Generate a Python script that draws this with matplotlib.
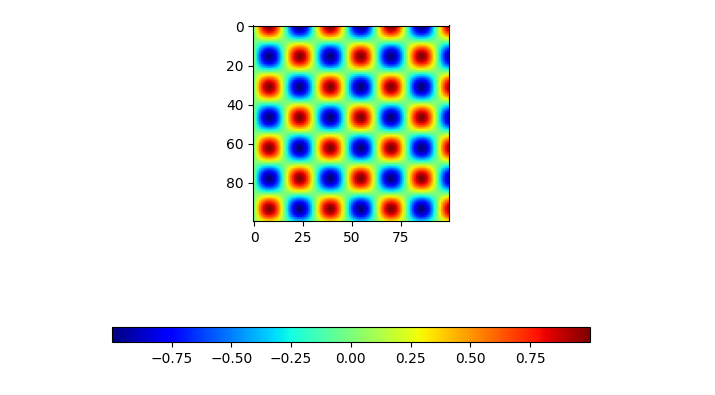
import numpy as np
import matplotlib
matplotlib.use("Agg")
import matplotlib.pyplot as plt

# Estimated profiles: 100 values along each image axis
row_profile = [
    1.000, .980, .920, .822, .691, .532, .351, .156, -.045, -.245,
    -.436, -.606, -.753, -.870, -.951, -.994, -.996, -.958, -.880, -.767,
    -.623, -.454, -.266, -.066, .136, .331, .514, .675, .809, .910,
    .975, 1.000, .983, .927, .833, .705, .549, .370, .177, -.024,
    -.224, -.411, -.584, -.733, -.855, -.942, -.990, -.998, -.964, -.890,
    -.781, -.640, -.473, -.286, -.089, .112, .308, .494, .659, .796,
    .901, .970, .999, .987, .936, .846, .722, .568, .390, .199,
    -.004, -.204, -.397, -.573, -.726, -.849, -.939, -.989, -.999, -.968,
    -.899, -.792, -.654, -.489, -.304, -.106, .095, .293, .479, .645,
    .785, .893, .965, .998, .990, .942, .856, .735, .583, .408,
]
col_profile = [
    .000, .201, .393, .570, .723, .847, .937, .988, .999, .969,
    .901, .796, .658, .493, .308, .111, -.091, -.288, -.475, -.642,
    -.782, -.891, -.964, -.998, -.991, -.944, -.858, -.738, -.588, -.414,
    -.221, -.021, .181, .374, .553, .709, .836, .929, .983, 1.000,
    .975, .912, .812, .680, .519, .336, .140, -.065, -.265, -.456,
    -.625, -.768, -.881, -.958, -.996, -.994, -.951, -.870, -.752, -.605,
    -.434, -.243, -.043, .158, .353, .533, .692, .823, .921, .981,
    1.000, .979, .919, .819, .688, .528, .345, .147, -.053, -.250,
    -.439, -.610, -.756, -.872, -.953, -.994, -.995, -.956, -.878, -.764,
    -.619, -.449, -.261, -.061, .140, .335, .518, .678, .812, .913,
]

field = np.outer(row_profile, col_profile)

W, H = 715, 395
fig = plt.figure(figsize=(W / 100, H / 100), dpi=100)
ax = fig.add_axes([253.3 / W, 1 - 221 / H, 195.5 / W, 195.5 / H])
im = ax.imshow(field, cmap="jet")
ax.set_xticks([0, 25, 50, 75])
ax.set_yticks([0, 20, 40, 60, 80])

cax = fig.add_axes([112 / W, 1 - 342 / H, 478 / W, 15 / H])
fig.colorbar(im, cax=cax, orientation="horizontal")
cax.set_xticks([-0.75, -0.5, -0.25, 0, 0.25, 0.5, 0.75])

fig.savefig("out.png", dpi=100)
